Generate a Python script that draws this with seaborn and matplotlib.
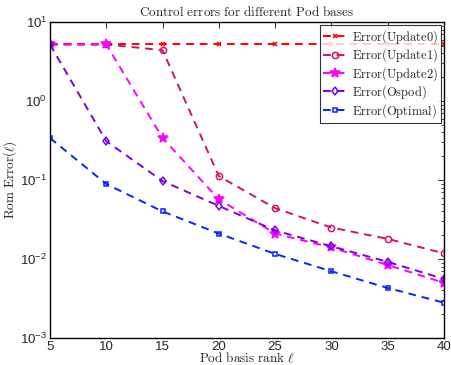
import numpy as np
import pandas as pd
import matplotlib
matplotlib.use("Agg")
import matplotlib.pyplot as plt
import seaborn as sns
from matplotlib.ticker import LogLocator, NullFormatter

rank = [5, 10, 15, 20, 25, 30, 35, 40]
update0 = [5.2, 5.2, 5.2, 5.2, 5.2, 5.2, 5.2, 5.2]
update1 = [5.2, 5.2, 4.4, 0.112, 0.044, 0.025, 0.018, 0.0118]
update2 = [5.2, 5.2, 0.34, 0.057, 0.021, 0.014, 0.0084, 0.0050]
ospod = [5.2, 0.31, 0.097, 0.047, 0.023, 0.0145, 0.0092, 0.0056]
optimal = [0.34, 0.089, 0.040, 0.021, 0.0116, 0.0070, 0.0043, 0.0028]
names = ["Error(Update0)", "Error(Update1)", "Error(Update2)", "Error(Ospod)", "Error(Optimal)"]
series = [update0, update1, update2, ospod, optimal]

sns.set_style("white")
plt.rcParams['font.family'] = ['Liberation Sans', 'DejaVu Sans']

fig = plt.figure(figsize=(4.52, 3.65), dpi=100)
ax = fig.add_axes([0.1106, 0.074, 0.8714, 0.8657])

styles = [
    dict(color="#ff0000", marker="x", ms=3.5, mfc="#ff0000"),
    dict(color="#d4106a", marker="o", ms=4.5, mfc="none"),
    dict(color="#ff00ff", marker="*", ms=7, mfc="#ff00ff"),
    dict(color="#7a00e6", marker="d", ms=4.5, mfc="none"),
    dict(color="#0a22ff", marker="s", ms=3.5, mfc="none"),
]

for name, vals, st in zip(names, series, styles):
    df = pd.DataFrame({"rank": rank, "err": vals})
    sns.lineplot(data=df, x="rank", y="err", ax=ax, color=st["color"],
                 linestyle=(0, (4, 3)), linewidth=1.4,
                 marker=st["marker"], markersize=st["ms"],
                 markerfacecolor=st["mfc"], markeredgecolor=st["color"],
                 markeredgewidth=1.1,
                 label=r"$\mathrm{" + name + "}$")

ax.set_yscale("log")
ax.set_xlim(5, 40)
ax.set_ylim(1e-3, 1e1)
ax.set_xticks(rank)
ax.set_xticklabels([str(r) for r in rank])
ax.yaxis.set_minor_locator(LogLocator(base=10, subs=np.arange(2, 10), numticks=20))
ax.yaxis.set_minor_formatter(NullFormatter())
ax.tick_params(axis="both", which="both", direction="in", top=True, right=True,
               labelsize=9.5, color="black", pad=2)
ax.tick_params(which="major", length=4, width=0.6)
ax.tick_params(which="minor", length=2, width=0.5)
for sp in ax.spines.values():
    sp.set_color("black")
    sp.set_linewidth(1.0)

ax.set_title(r"$\mathrm{Control\ errors\ for\ different\ Pod\ bases}$",
             fontsize=9.5, math_fontfamily="cm", pad=4)
ax.set_xlabel(r"$\mathrm{Pod\ basis\ rank\ }\ell$", fontsize=9.5, math_fontfamily="cm", labelpad=-1)
ax.set_ylabel(r"$\mathrm{Rom\ Error}(\ell)$", fontsize=9.5, math_fontfamily="cm", labelpad=1)

leg = ax.legend(loc="upper right", frameon=True, fancybox=False, fontsize=9,
                borderaxespad=0.25, handlelength=2.0, labelspacing=0.05,
                borderpad=0.25, handletextpad=0.3)
for t in leg.get_texts():
    t.set_math_fontfamily("cm")
leg.get_frame().set_edgecolor("black")
leg.get_frame().set_linewidth(0.8)

fig.savefig("out.png", dpi=100)
